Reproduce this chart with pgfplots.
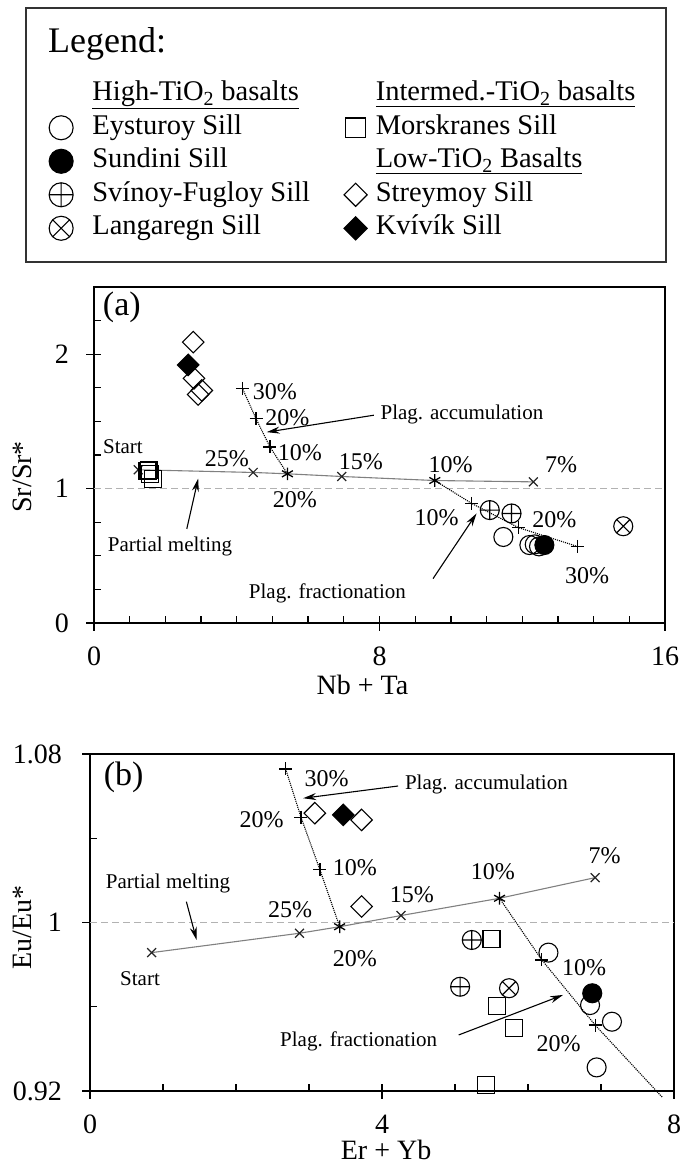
\documentclass[border=0pt]{standalone}
\usepackage{fontspec}
\setmainfont{Liberation Serif}
\usepackage{pgfplots}
\pgfplotsset{compat=1.18}
\usetikzlibrary{arrows.meta}

\newcommand{\fs}[1]{\fontsize{#1pt}{#1pt}\selectfont}

\pgfplotsset{
  panel/.style={
    scale only axis,
    clip=false,
    axis line style={line width=1.3pt},
    tick pos=left,
    tick align=inside,
    major tick length=15pt,
    minor tick length=7pt,
    tick style={black, line width=1.3pt},
    major x tick style={yshift=-8pt},
    major y tick style={xshift=-8pt},
    /pgf/number format/assume math mode=true,
    tick label style={font=\fs{28}},
    label style={font=\fs{28}},
    xticklabel style={anchor=center, yshift=-33pt},
    yticklabel style={anchor=east, inner sep=0pt, xshift=-25pt},
  },
  refline/.style={black!30, line width=1.1pt, dash pattern=on 7pt off 4pt, forget plot},
  melt/.style={black!50, line width=1.1pt, forget plot},
  plag/.style={black, line width=1.1pt, densely dotted, forget plot},
  xm/.style={only marks, mark=x, mark size=6.3pt, black!85, mark options={line width=1.2pt}, forget plot},
  am/.style={only marks, mark=asterisk, mark size=6.3pt, black, mark options={line width=1.3pt}, forget plot},
  pm/.style={only marks, mark=+, mark size=6.5pt, black, mark options={line width=1.2pt}, forget plot},
  eys/.style={only marks, mark=o, mark size=9.5pt, black, mark options={line width=1.1pt}},
  sun/.style={only marks, mark=*, mark size=9.5pt, black, mark options={fill=black, line width=1.1pt}},
  svi/.style={only marks, mark=oplus, mark size=9.5pt, black, mark options={line width=1.1pt}},
  lan/.style={only marks, mark=otimes, mark size=9.5pt, black, mark options={line width=1.1pt}},
  mor/.style={only marks, mark=square, mark size=8.5pt, black, mark options={line width=1.1pt}},
  str/.style={only marks, mark=square, mark size=7.6pt, black, mark options={rotate=45, line width=1.1pt}},
  kvi/.style={only marks, mark=square*, mark size=7.6pt, black, mark options={rotate=45, fill=black, line width=1.1pt}},
  % key symbols: first column and second column of the key
  keyA/.style={legend image code/.code={\path (0pt,-1pt) (41.5pt,1pt); \draw[##1] plot coordinates {(13pt,0pt)};}},
  keyB/.style={legend image code/.code={\path (-31.8pt,-1pt) (28.5pt,1pt); \draw[##1] plot coordinates {(11pt,0pt)};}},
}
\tikzset{
  lbl/.style={font=\fs{21}, inner sep=0pt},
  pct/.style={font=\fs{24}, inner sep=0pt},
  arr/.style={-{Stealth[length=13pt, width=7pt]}, line width=1.1pt, black},
}

\begin{document}
\begin{tikzpicture}
\path[use as bounding box] (0pt,0pt) rectangle (682pt,1169pt);

% ---------------- (a) Sr/Sr* against Nb + Ta ----------------
\begin{axis}[panel,
  at={(94pt,546pt)}, anchor=south west,
  width=571pt, height=336pt,
  xmin=0, xmax=16, ymin=0, ymax=2.5,
  xtick={0,8,16}, minor xtick={1,2,3,4,5,6,7,9,10,11,12,13,14,15},
  ytick={0,1,2}, minor ytick={0.25,0.5,0.75,1.25,1.5,1.75,2.25},
  xlabel={Nb + Ta}, ylabel={Sr/Sr*},
  xlabel style={at={(axis description cs:0.47,0)}, anchor=center, yshift=-62pt},
  ylabel style={at={(axis description cs:-0.126,0.435)}, anchor=center},
  legend columns=2,
  legend cell align=left,
  legend style={draw=none, fill=none, inner sep=0pt, row sep=0pt, column sep=0pt,
    at={(axis description cs:-0.081,1.624)}, anchor=north west,
    font=\fs{28.5},
    nodes={inner sep=2.5pt, text height=20.5pt, text depth=8pt}},
]
\addplot[refline] coordinates {(0,1) (16,1)};

% partial melting curve
\addplot[melt] coordinates {(1.24,1.14) (4.46,1.12) (5.42,1.11) (6.94,1.09) (9.55,1.06) (12.31,1.05)};
\addplot[xm] coordinates {(1.24,1.14) (4.46,1.12) (6.94,1.09) (12.31,1.05)};
% plagioclase accumulation from the 20% melt
\addplot[plag] coordinates {(5.42,1.11) (4.93,1.31) (4.54,1.52) (4.16,1.745)};
\addplot[pm] coordinates {(4.93,1.31) (4.54,1.52) (4.16,1.745)};
% plagioclase fractionation from the 10% melt
\addplot[plag] coordinates {(9.55,1.06) (10.58,0.89) (11.89,0.71) (13.54,0.57)};
\addplot[pm] coordinates {(10.58,0.89) (11.89,0.71) (13.54,0.57)};
\addplot[am] coordinates {(5.42,1.11) (9.55,1.06)};

% sills
\addplot[mor, forget plot] coordinates {(1.50,1.13) (1.54,1.14) (1.57,1.11) (1.66,1.07)};
\addplot[str, forget plot] coordinates {(2.78,2.09) (2.80,1.82) (3.02,1.73) (2.92,1.70)};
\addplot[kvi, forget plot] coordinates {(2.64,1.92)};
\addplot[svi, forget plot] coordinates {(11.09,0.84) (11.70,0.815)};
\addplot[eys, forget plot] coordinates {(11.47,0.64) (12.20,0.58) (12.35,0.585) (12.47,0.57)};
\addplot[sun, forget plot] coordinates {(12.62,0.58)};
\addplot[lan, forget plot] coordinates {(14.83,0.72)};

% key entries, row by row
\addlegendimage{empty legend}
\addlegendentry{\underline{High-TiO\textsubscript{2} basalts}}
\addlegendimage{empty legend}
\addlegendentry{\underline{Intermed.-TiO\textsubscript{2} basalts}}
\addlegendimage{eys, mark size=12pt, keyA}
\addlegendentry{Eysturoy Sill}
\addlegendimage{mor, mark size=9.8pt, keyB}
\addlegendentry{Morskranes Sill}
\addlegendimage{sun, mark size=12pt, keyA}
\addlegendentry{Sundini Sill}
\addlegendimage{empty legend}
\addlegendentry{\underline{Low-TiO\textsubscript{2} Basalts}}
\addlegendimage{svi, mark size=12pt, keyA}
\addlegendentry{Svínoy-Fugloy Sill}
\addlegendimage{str, mark size=8.2pt, keyB}
\addlegendentry{Streymoy Sill}
\addlegendimage{lan, mark size=12pt, keyA}
\addlegendentry{Langaregn Sill}
\addlegendimage{kvi, mark size=8.2pt, keyB}
\addlegendentry{Kvívík Sill}

% annotations
\node[font=\fs{34}, inner sep=0pt] at (axis cs:0.78,2.35) {(a)};
\node[lbl] at (axis cs:0.81,1.31) {Start};
\node[pct] at (axis cs:3.72,1.22) {25\%};
\node[pct] at (axis cs:5.63,0.915) {20\%};
\node[pct] at (axis cs:7.48,1.20) {15\%};
\node[pct] at (axis cs:9.99,1.18) {10\%};
\node[pct] at (axis cs:13.09,1.18) {7\%};
\node[pct] at (axis cs:5.77,1.27) {10\%};
\node[pct] at (axis cs:5.42,1.53) {20\%};
\node[pct] at (axis cs:5.07,1.72) {30\%};
\node[pct] at (axis cs:9.60,0.78) {10\%};
\node[pct] at (axis cs:12.90,0.77) {20\%};
\node[pct] at (axis cs:13.82,0.355) {30\%};
\node[lbl] at (axis cs:10.31,1.555) {Plag. accumulation};
\node[lbl] at (axis cs:6.54,0.223) {Plag. fractionation};
\node[lbl] at (axis cs:2.13,0.567) {Partial melting};
\draw[arr] (axis cs:7.84,1.546) -- (axis cs:4.84,1.42);
\draw[arr] (axis cs:9.50,0.33) -- (axis cs:10.72,0.815);
\draw[arr] (axis cs:2.60,0.70) -- (axis cs:2.92,1.075);
\end{axis}

% ---------------- (b) Eu/Eu* against Er + Yb ----------------
\begin{axis}[panel,
  at={(90pt,78pt)}, anchor=south west,
  width=584pt, height=337pt,
  xmin=0, xmax=8, ymin=0.92, ymax=1.08,
  xtick={0,4,8}, minor xtick={1,2,3,5,6,7},
  ytick={0.92,1,1.08}, minor ytick={0.96,1.04},
  xlabel={Er + Yb}, ylabel={Eu/Eu*},
  xlabel style={at={(axis description cs:0.507,0)}, anchor=center, yshift=-59pt},
  ylabel style={at={(axis description cs:-0.116,0.484)}, anchor=center},
  yticklabel style={xshift=-3pt},
]
\addplot[refline] coordinates {(0,1) (8,1)};

\addplot[melt] coordinates {(0.845,0.9857) (2.87,0.9949) (3.42,0.998) (4.26,1.0033) (5.61,1.0115) (6.92,1.0213)};
\addplot[xm] coordinates {(0.845,0.9857) (2.87,0.9949) (4.26,1.0033) (6.92,1.0213)};
\addplot[plag] coordinates {(3.42,0.998) (3.15,1.025) (2.89,1.050) (2.68,1.0729)};
\addplot[pm] coordinates {(3.15,1.025) (2.89,1.050) (2.68,1.0729)};
\addplot[plag] coordinates {(5.61,1.0115) (6.19,0.9822) (6.92,0.9513) (7.84,0.917)};
\addplot[pm] coordinates {(6.19,0.9822) (6.92,0.9513)};
\addplot[am] coordinates {(3.42,0.998) (5.61,1.0115)};

\addplot[str, forget plot] coordinates {(3.08,1.0519) (3.72,1.0487) (3.72,1.0076)};
\addplot[kvi, forget plot] coordinates {(3.47,1.0511)};
\addplot[svi, forget plot] coordinates {(5.23,0.9917) (5.07,0.9695)};
\addplot[mor, forget plot] coordinates {(5.50,0.992) (5.57,0.9604) (5.81,0.9498) (5.42,0.9228)};
\addplot[lan, forget plot] coordinates {(5.74,0.9688)};
\addplot[eys, forget plot] coordinates {(6.28,0.9857) (6.85,0.9608) (7.15,0.9529) (6.94,0.9312)};
\addplot[sun, forget plot] coordinates {(6.88,0.9664)};

\node[font=\fs{34}, inner sep=0pt] at (axis cs:0.46,1.069) {(b)};
\node[pct] at (axis cs:3.24,1.0685) {30\%};
\node[pct] at (axis cs:2.35,1.0487) {20\%};
\node[pct] at (axis cs:3.63,1.0258) {10\%};
\node[pct] at (axis cs:2.74,1.006) {25\%};
\node[pct] at (axis cs:3.63,0.983) {20\%};
\node[pct] at (axis cs:4.41,1.013) {15\%};
\node[pct] at (axis cs:5.52,1.024) {10\%};
\node[pct] at (axis cs:7.05,1.0316) {7\%};
\node[pct] at (axis cs:6.77,0.9787) {10\%};
\node[pct] at (axis cs:6.42,0.9426) {20\%};
\node[lbl] at (axis cs:1.07,1.0183) {Partial melting};
\node[lbl] at (axis cs:0.685,0.9735) {Start};
\node[lbl] at (axis cs:5.43,1.0653) {Plag. accumulation};
\node[lbl] at (axis cs:3.68,0.9437) {Plag. fractionation};
\draw[arr] (axis cs:1.32,1.0099) -- (axis cs:1.46,0.9917);
\draw[arr] (axis cs:4.22,1.0648) -- (axis cs:2.92,1.059);
\draw[arr] (axis cs:5.05,0.9466) -- (axis cs:6.48,0.9656);
\end{axis}

% frame and heading of the key
\draw[line width=1.5pt, black!80] (26pt,907pt) rectangle (666pt,1161pt);
\node[anchor=base west, font=\fs{36}, inner sep=0pt] at (48pt,1116pt) {Legend:};
\end{tikzpicture}
\end{document}
